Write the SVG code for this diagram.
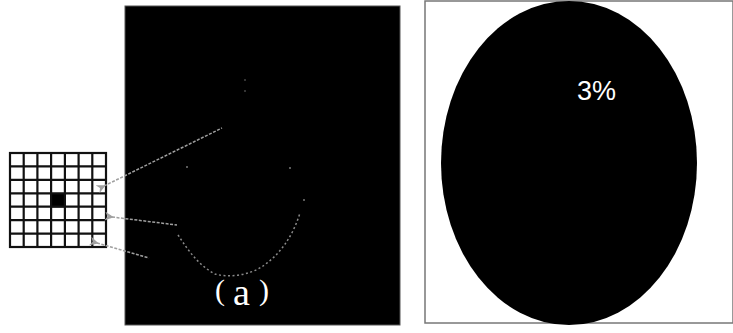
<svg xmlns="http://www.w3.org/2000/svg" width="733" height="333" viewBox="0 0 733 333">
<style>
.grid{stroke:#111;stroke-width:2.2;fill:none}
.conn{stroke:#a0a0a0;stroke-width:1.5;fill:none;stroke-dasharray:3 1.5}
.curve{stroke:#8a8a8a;stroke-width:1.5;fill:none;stroke-dasharray:2 2.5}
.dot{fill:#777}
</style>
<defs>
<marker id="ah" viewBox="0 0 10 10" refX="2" refY="5" markerWidth="9" markerHeight="9" orient="auto-start-reverse" markerUnits="userSpaceOnUse">
<path d="M10,0 L0,5 L10,10 L7,5 Z" fill="#a0a0a0"/>
</marker>
</defs>
<rect width="733" height="333" fill="#fff"/>
<g id="panel-a">
<rect x="125" y="6" width="275" height="319" fill="#000" stroke="#555" stroke-width="1"/>
<path class="curve" d="M178,235 C188,250 198,265 215,274 C230,278 250,275 263,266 C280,254 292,238 300,213"/>
<circle class="dot" cx="187" cy="167" r="1"/>
<circle class="dot" cx="290" cy="168" r="1"/>
<circle class="dot" cx="304" cy="200" r="1"/>
<circle class="dot" cx="245" cy="80" r="0.8"/>
<circle class="dot" cx="245" cy="91" r="0.8"/>
<text font-family="Liberation Serif, serif" fill="#fff"><tspan x="215" y="300" font-size="30">(</tspan><tspan x="233" y="305" font-size="38">a</tspan><tspan x="259" y="300" font-size="30">)</tspan></text>
</g>
<g id="grid-node">
<rect x="10" y="153" width="96" height="94" fill="#fff" class="grid"/>
<rect x="51" y="194" width="13.7" height="13.4" fill="#000"/>
<path class="grid" d="M23.7,153V247M37.4,153V247M51.1,153V247M64.9,153V247M78.6,153V247M92.3,153V247M10,166.4H106M10,179.9H106M10,193.3H106M10,206.7H106M10,220.1H106M10,233.6H106"/>
</g>
<g id="connectors">
<line class="conn" x1="104" y1="186" x2="222" y2="128" marker-start="url(#ah)"/>
<line class="conn" x1="112" y1="217" x2="177" y2="225" marker-start="url(#ah)"/>
<line class="conn" x1="97" y1="243" x2="149" y2="258" marker-start="url(#ah)"/>
</g>
<g id="panel-b">
<rect x="425" y="1" width="308" height="322" fill="#fff" stroke="#777" stroke-width="1.5"/>
<ellipse cx="569" cy="163" rx="128" ry="162" fill="#000"/>
<text x="577" y="100" font-family="Liberation Sans, Arial, sans-serif" font-size="27" fill="#fff">3%</text>
</g>
</svg>
